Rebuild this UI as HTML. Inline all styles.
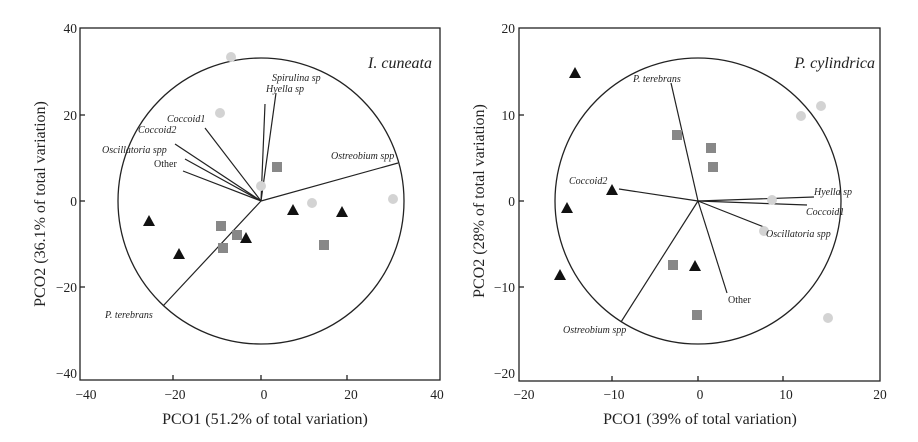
<!DOCTYPE html>
<html><head><meta charset="utf-8"><style>
html,body{margin:0;padding:0;background:#fff;}
svg{display:block;font-family:"Liberation Serif",serif;}
.t{font-size:13.5px;fill:#222;}
.i{font-size:10px;font-style:italic;fill:#222;}
.ti{font-size:16px;font-style:italic;fill:#222;}
.ax{font-size:16px;fill:#222;}
</style></head><body>
<svg width="918" height="442" viewBox="0 0 918 442">
<g stroke="#222" fill="none" stroke-width="1.3">
<rect x="80" y="28" width="360" height="352"/>
<line x1="173" y1="380" x2="173" y2="375"/><line x1="261" y1="380" x2="261" y2="375"/><line x1="347" y1="380" x2="347" y2="375"/>
<line x1="80" y1="115" x2="85" y2="115"/><line x1="80" y1="201" x2="85" y2="201"/><line x1="80" y1="287" x2="85" y2="287"/>
<circle cx="261" cy="201" r="143"/>
<g stroke-width="1.2">
<line x1="261" y1="201" x2="276" y2="93"/><line x1="261" y1="201" x2="265" y2="104"/>
<line x1="261" y1="201" x2="205" y2="128"/><line x1="261" y1="201" x2="175" y2="144"/>
<line x1="261" y1="201" x2="185" y2="159"/><line x1="261" y1="201" x2="183" y2="171"/>
<line x1="261" y1="201" x2="398" y2="163"/><line x1="261" y1="201" x2="163" y2="306"/>
</g>
<rect x="519" y="28" width="361" height="353"/>
<line x1="612" y1="381" x2="612" y2="376"/><line x1="698" y1="381" x2="698" y2="376"/><line x1="783" y1="381" x2="783" y2="376"/>
<line x1="519" y1="115" x2="524" y2="115"/><line x1="519" y1="201" x2="524" y2="201"/><line x1="519" y1="287" x2="524" y2="287"/>
<circle cx="698" cy="201" r="143"/>
<g stroke-width="1.2">
<line x1="698" y1="201" x2="671" y2="83"/><line x1="698" y1="201" x2="619" y2="189"/>
<line x1="698" y1="201" x2="814" y2="197"/><line x1="698" y1="201" x2="807" y2="205"/>
<line x1="698" y1="201" x2="764" y2="227"/><line x1="698" y1="201" x2="727" y2="293"/>
<line x1="698" y1="201" x2="621" y2="322"/>
</g>
</g>
<!-- left points -->
<g fill="#d3d3d3"><circle cx="231" cy="57" r="5"/><circle cx="220" cy="113" r="5"/><circle cx="261" cy="186" r="5"/><circle cx="312" cy="203" r="5"/><circle cx="393" cy="199" r="5"/>
<circle cx="801" cy="116" r="5"/><circle cx="821" cy="106" r="5"/><circle cx="772" cy="200" r="5"/><circle cx="764" cy="231" r="5"/><circle cx="828" cy="318" r="5"/></g>
<g fill="#888"><rect x="272" y="162" width="10" height="10"/><rect x="216" y="221" width="10" height="10"/><rect x="232" y="230" width="10" height="10"/><rect x="218" y="243" width="10" height="10"/><rect x="319" y="240" width="10" height="10"/>
<rect x="672" y="130" width="10" height="10"/><rect x="706" y="143" width="10" height="10"/><rect x="708" y="162" width="10" height="10"/><rect x="668" y="260" width="10" height="10"/><rect x="692" y="310" width="10" height="10"/></g>
<g fill="#111">
<polygon points="149,215 143,226 155,226"/><polygon points="179,248 173,259 185,259"/><polygon points="246,232 240,243 252,243"/><polygon points="293,204 287,215 299,215"/><polygon points="342,206 336,217 348,217"/>
<polygon points="575,67 569,78 581,78"/><polygon points="612,184 606,195 618,195"/><polygon points="567,202 561,213 573,213"/><polygon points="560,269 554,280 566,280"/><polygon points="695,260 689,271 701,271"/>
</g>
<!-- labels -->
<g class="i">
<text x="272" y="81">Spirulina sp</text><text x="266" y="92">Hyella sp</text>
<text x="167" y="122">Coccoid1</text><text x="138" y="133">Coccoid2</text>
<text x="102" y="153">Oscillatoria spp</text><text x="154" y="167" style="font-style:normal">Other</text>
<text x="331" y="159">Ostreobium spp</text><text x="105" y="318">P. terebrans</text>
<text x="633" y="82">P. terebrans</text><text x="569" y="184">Coccoid2</text>
<text x="814" y="195">Hyella sp</text><text x="806" y="215">Coccoid1</text>
<text x="766" y="237">Oscillatoria spp</text><text x="728" y="303" style="font-style:normal">Other</text>
<text x="563" y="333">Ostreobium spp</text>
</g>
<text class="ti" x="432" y="68" text-anchor="end">I. cuneata</text>
<text class="ti" x="875" y="68" text-anchor="end">P. cylindrica</text>
<g class="t" text-anchor="end">
<text x="77" y="33">40</text><text x="77" y="120">20</text><text x="77" y="206">0</text><text x="77" y="292">−20</text><text x="77" y="378">−40</text>
<text x="515" y="33">20</text><text x="515" y="120">10</text><text x="515" y="206">0</text><text x="515" y="292">−10</text><text x="515" y="378">−20</text>
</g>
<g class="t" text-anchor="middle">
<text x="86" y="399">−40</text><text x="175" y="399">−20</text><text x="264" y="399">0</text><text x="351" y="399">20</text><text x="437" y="399">40</text>
<text x="524" y="399">−20</text><text x="614" y="399">−10</text><text x="700" y="399">0</text><text x="786" y="399">10</text><text x="880" y="399">20</text>
</g>
<text class="ax" x="265" y="424" text-anchor="middle">PCO1 (51.2% of total variation)</text>
<text class="ax" x="700" y="424" text-anchor="middle">PCO1 (39% of total variation)</text>
<text class="ax" transform="translate(45,204) rotate(-90)" text-anchor="middle">PCO2 (36.1% of total variation)</text>
<text class="ax" transform="translate(484,201) rotate(-90)" text-anchor="middle">PCO2 (28% of total variation)</text>
</svg>
</body></html>
